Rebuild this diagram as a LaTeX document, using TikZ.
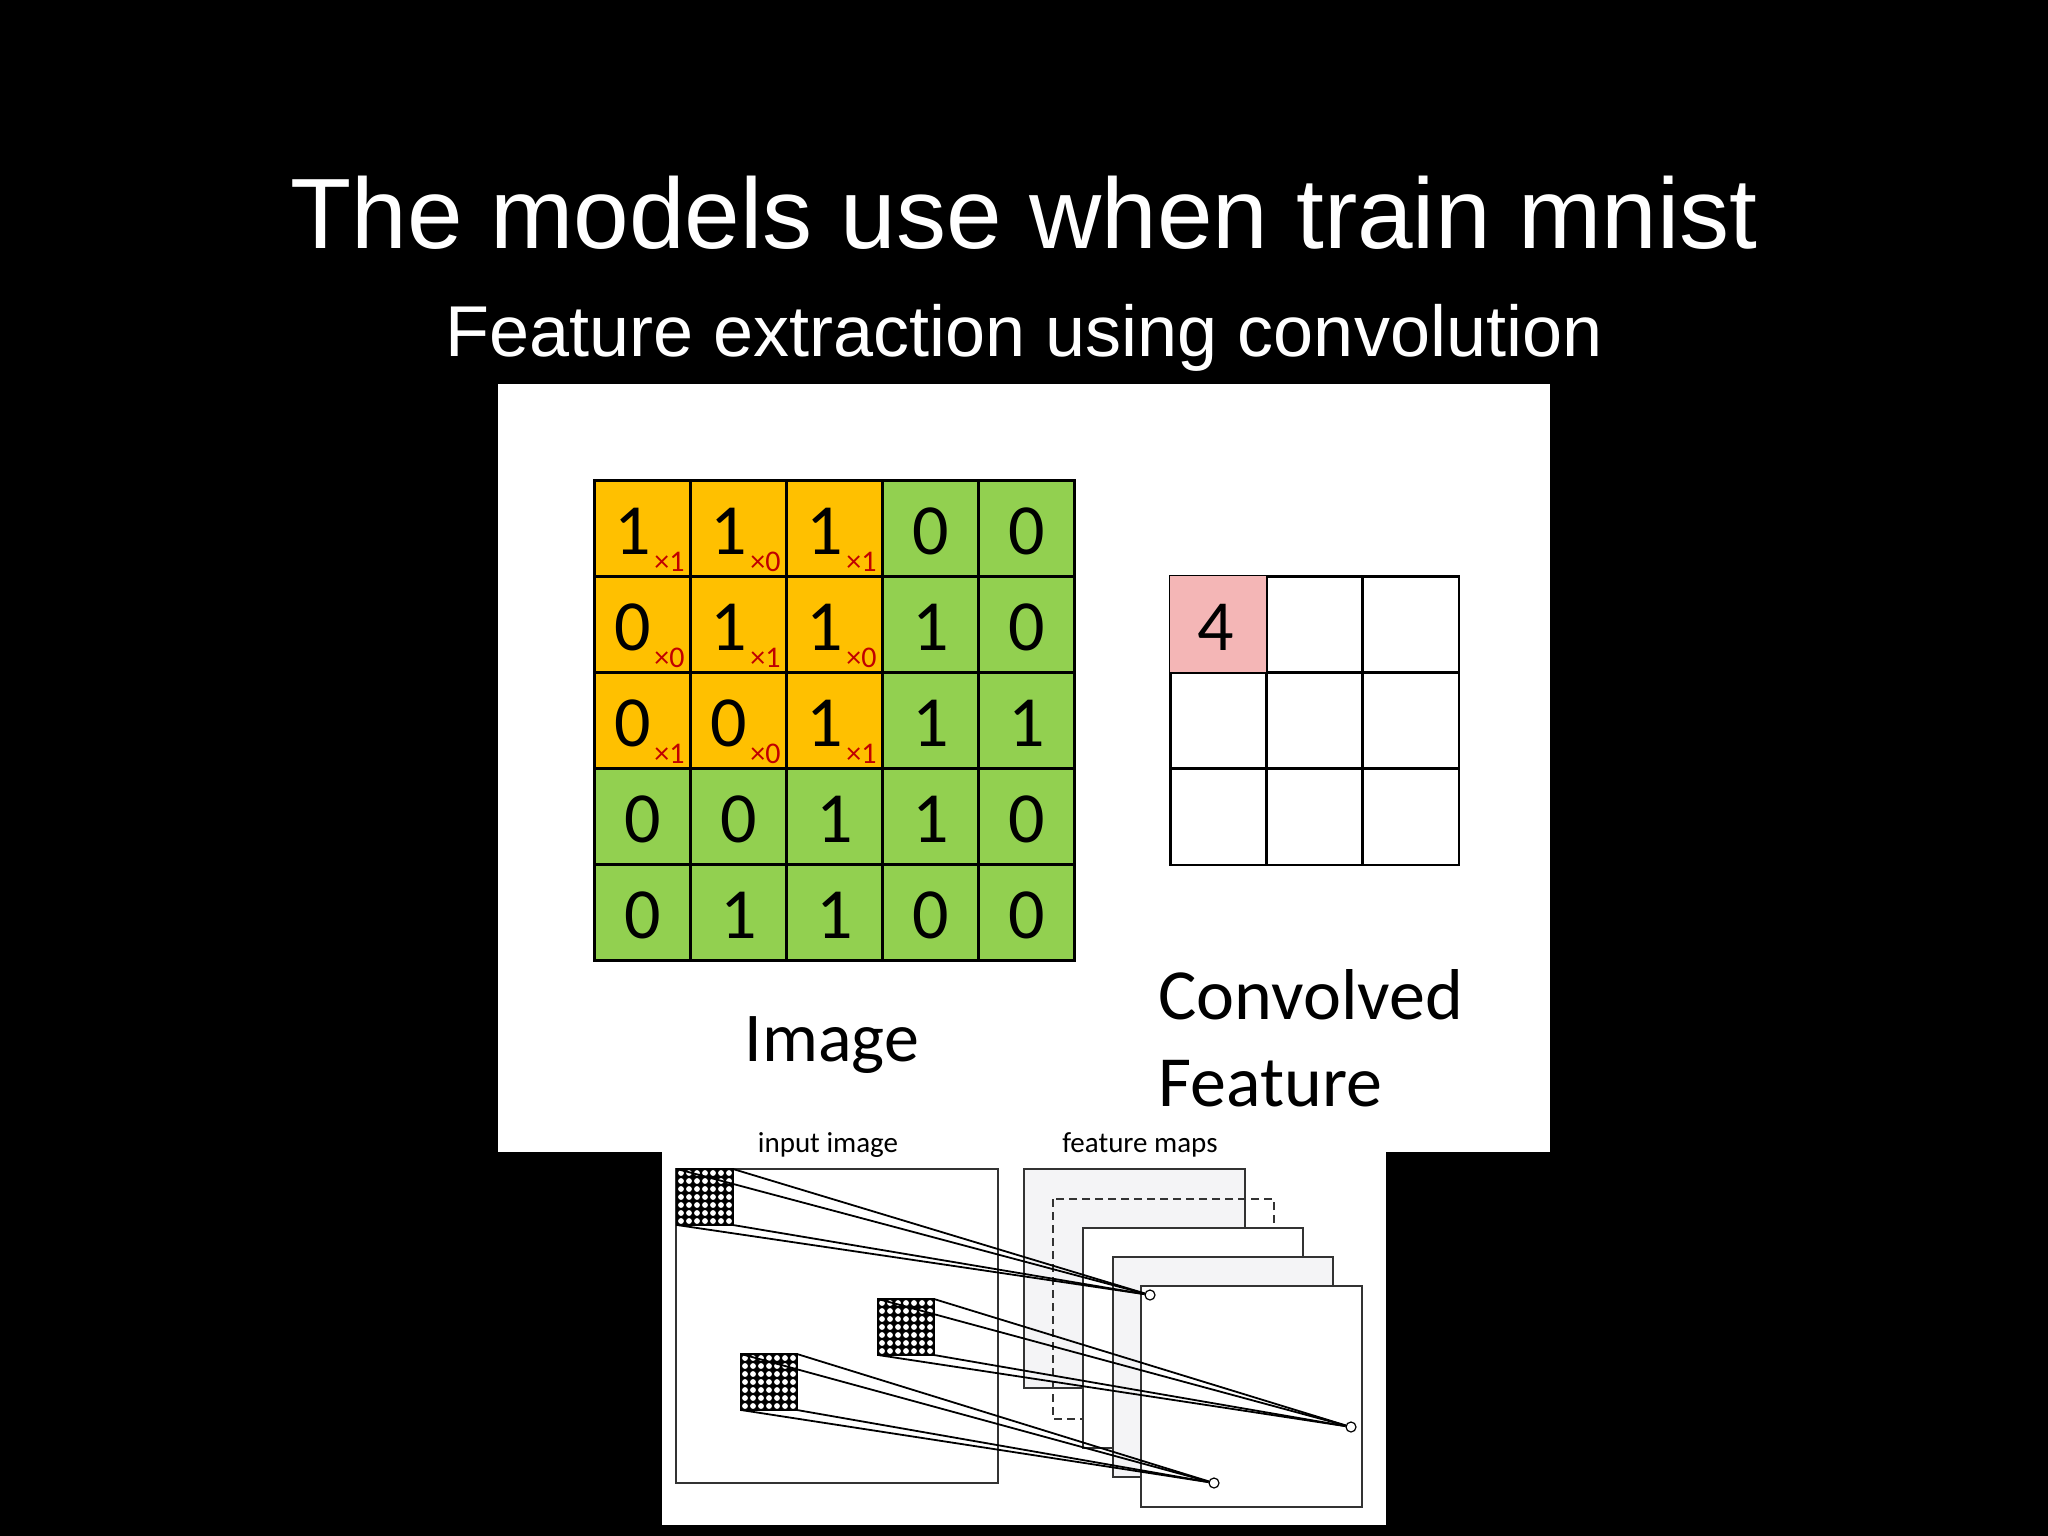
\documentclass[tikz,border=0pt]{standalone}
\usepackage{fontspec}
\setmainfont{Liberation Sans}
\newfontfamily\carfont{Carlito}
\definecolor{org}{RGB}{255,192,0}
\definecolor{grn}{RGB}{146,208,80}
\definecolor{pnk}{RGB}{244,182,182}
\definecolor{drd}{RGB}{192,0,0}
\definecolor{lg}{RGB}{244,244,246}
\begin{document}
\begin{tikzpicture}[x=1pt,y=-1pt,
  cellbox/.style={draw=black,line width=2.5pt,minimum size=96pt,inner sep=0pt,anchor=north west},
  dig/.style={font=\carfont\fontsize{72}{72}\selectfont},
  sub/.style={font=\carfont\fontsize{30}{30}\selectfont,text=drd},
  fmap/.style={draw=black!80,line width=1.8pt},
  ray/.style={draw=black,line width=1.8pt},
  tgt/.style={circle,draw=black,fill=white,line width=1.2pt,inner sep=0pt,minimum size=10pt}]
\useasboundingbox (0,0) rectangle (2048,1536);
\fill[black] (0,0) rectangle (2048,1536);
\node[text=white,font=\fontsize{100}{100}\selectfont] (title) at (1024,213) {The models use when train mnist};
\node[text=white,font=\fontsize{72}{72}\selectfont] (subtitle) at (1024,338) {Feature extraction using convolution};
% panel 1
\fill[white] (498,384) rectangle (1550,1152);
\def\vals{{{1,1,1,0,0},{0,1,1,1,0},{0,0,1,1,1},{0,0,1,1,0},{0,1,1,0,0}}}
\def\kervals{{{1,0,1},{0,1,0},{1,0,1}}}
\foreach \r in {0,...,4}{
 \foreach \c in {0,...,4}{
  \pgfmathtruncatemacro{\v}{\vals[\r][\c]}
  \pgfmathtruncatemacro{\inn}{(\r<3)&&(\c<3)}
  \ifnum\inn=1
   \pgfmathtruncatemacro{\k}{\kervals[\r][\c]}
   \node[cellbox,fill=org] (g\r\c) at (593+96*\c,479+96*\r) {};
   \node[dig] (d\r\c) at ([xshift=-10pt,yshift=-3pt]g\r\c.center) {\v};
   \node[sub] (s\r\c) at ([xshift=-22pt,yshift=16pt]g\r\c.south east) {×\k};
  \else
   \node[cellbox,fill=grn] (g\r\c) at (593+96*\c,479+96*\r) {};
   \node[dig] (d\r\c) at ([yshift=-3pt]g\r\c.center) {\v};
  \fi
 }}
\foreach \r in {0,1,2}{\foreach \c in {0,1,2}{
  \node[cellbox,fill=white] (c\r\c) at (1169+96.3*\c,575+96.3*\r) {};}}
\fill[pnk] ([shift={(1.3pt,-1.3pt)}]c00.north west) rectangle ([shift={(-1.3pt,1.3pt)}]c00.south east);
\node[dig] (four) at ([xshift=-3pt,yshift=-3pt]c00.center) {4};
\node[font=\carfont\fontsize{70}{70}\selectfont] (imglbl) at (832,1045) {Image};
\node[font=\carfont\fontsize{72}{72}\selectfont,anchor=west] (cv1) at (1155,995) {Convolved};
\node[font=\carfont\fontsize{72}{72}\selectfont,anchor=west] (cv2) at (1155,1084) {Feature};
% panel 2
\fill[white] (662,1152) rectangle (1386,1525);
\node[font=\carfont\fontsize{29}{29}\selectfont] (inlbl) at (828,1145) {input image};
\node[font=\carfont\fontsize{29}{29}\selectfont] (fmlbl) at (1140,1145) {feature maps};
\draw[fmap,fill=white] (676,1169) rectangle (998,1483);
\draw[fmap,fill=lg] (1024,1169) rectangle (1245,1388);
\draw[fmap,dash pattern=on 8pt off 5pt,line width=1.6pt] (1053,1199) rectangle (1274,1419);
\draw[fmap,fill=white] (1083,1228) rectangle (1303,1448);
\draw[fmap,fill=lg] (1113,1257) rectangle (1333,1477);
\draw[fmap,fill=white] (1141,1286) rectangle (1362,1507);
\foreach \n/\x/\y in {p1/677/1169,p2/878/1299,p3/741/1354}{
  \fill[black] (\x,\y) rectangle ++(56,56);
  \foreach \i in {0,...,6}{\foreach \j in {0,...,6}{
    \fill[white] (\x+4+8*\i,\y+4+8*\j) circle (2.9pt);}}
  \draw[black,line width=1.6pt] (\x,\y) rectangle ++(56,56);
  \coordinate (\n tl) at (\x,\y);
  \coordinate (\n tr) at (\x+56,\y);
  \coordinate (\n bl) at (\x,\y+56);
  \coordinate (\n br) at (\x+56,\y+56);
}
\node[tgt] (t1) at (1150,1295) {};
\node[tgt] (t2) at (1351,1427) {};
\node[tgt] (t3) at (1214,1483) {};
\foreach \p/\t in {p1/t1,p2/t2,p3/t3}{
  \draw[ray] (\p tl) -- (\t);
  \draw[ray] (\p tr) -- (\t);
  \draw[ray] (\p bl) -- (\t);
  \draw[ray] (\p br) -- (\t);
}
\end{tikzpicture}
\end{document}
